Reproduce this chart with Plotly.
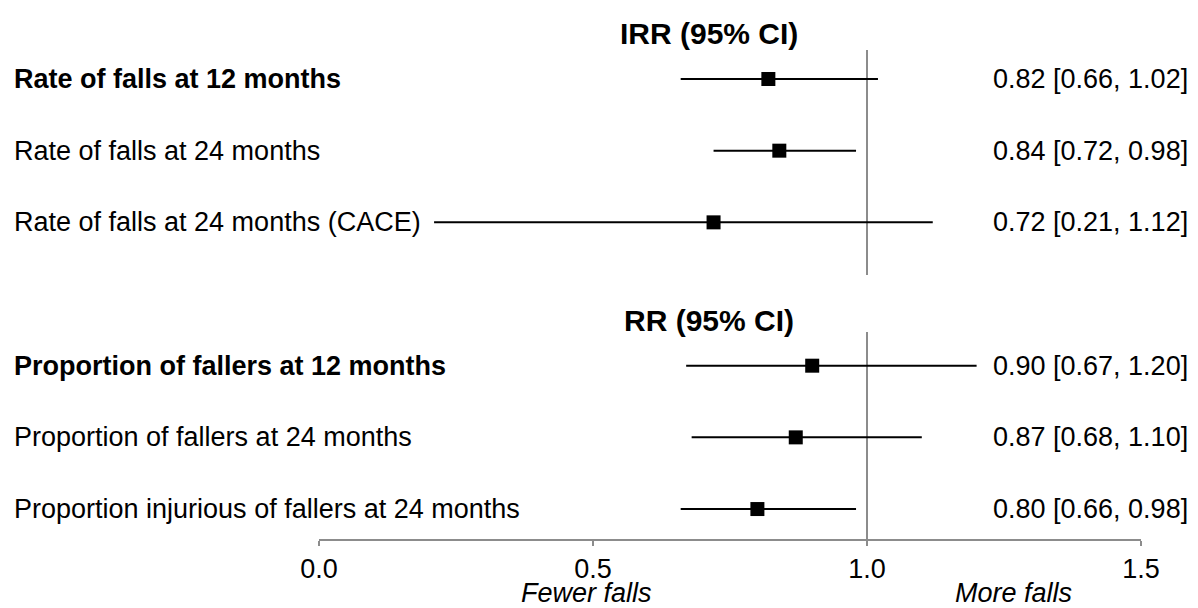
import plotly.graph_objects as go

# ---- data ----
labels = [
    "Rate of falls at 12 months",
    "Rate of falls at 24 months",
    "Rate of falls at 24 months (CACE)",
    "Proportion of fallers at 12 months",
    "Proportion of fallers at 24 months",
    "Proportion injurious of fallers at 24 months",
]
bold = [True, False, False, True, False, False]
rows = [0, 1, 2, 4, 5, 6]
est = [0.82, 0.84, 0.72, 0.90, 0.87, 0.80]
lo = [0.66, 0.72, 0.21, 0.67, 0.68, 0.66]
hi = [1.02, 0.98, 1.12, 1.20, 1.10, 0.98]
headers = ["IRR (95% CI)", "RR (95% CI)"]
header_rows = [0, 4]
tick_vals = [0.0, 0.5, 1.0, 1.5]
tick_text = ["0.0", "0.5", "1.0", "1.5"]
direction_labels = ["Fewer falls", "More falls"]
direction_x = [0.489, 1.268]

FONT = "Liberation Sans, Arial, sans-serif"
FS = 27

fig = go.Figure()
fig.add_trace(go.Scatter(
    x=est, y=rows, mode="markers",
    marker=dict(symbol="square", size=14, color="black"),
    error_x=dict(type="data", symmetric=False,
                 array=[h - e for h, e in zip(hi, est)],
                 arrayminus=[e - l for e, l in zip(est, lo)],
                 width=0, thickness=2, color="black"),
    cliponaxis=False, showlegend=False, hoverinfo="skip",
))

ann = []
for lab, b, r in zip(labels, bold, rows):
    ann.append(dict(x=-0.3735, xref="paper", y=r, yref="y", text=f"<b>{lab}</b>" if b else lab,
                    showarrow=False, xanchor="left", yanchor="middle",
                    font=dict(family=FONT, size=FS, color="black")))
for e, l, h, r in zip(est, lo, hi, rows):
    ann.append(dict(x=1.0596, xref="paper", y=r, yref="y", text=f"{e:.2f} [{l:.2f}, {h:.2f}]",
                    showarrow=False, xanchor="right", yanchor="middle",
                    font=dict(family=FONT, size=FS, color="black")))
for hd, r in zip(headers, header_rows):
    ann.append(dict(x=0.712, xref="x", y=r - 0.63, yref="y", text=f"<b>{hd}</b>",
                    showarrow=False, xanchor="center", yanchor="middle",
                    font=dict(family=FONT, size=30, color="black")))
for txt, xv in zip(direction_labels, direction_x):
    ann.append(dict(x=xv, xref="x", y=-0.102, yref="paper", text=f"<i>{txt}</i>",
                    showarrow=False, xanchor="center", yanchor="middle",
                    font=dict(family=FONT, size=FS, color="black")))

shapes = [
    dict(type="line", xref="x", yref="y", x0=1.0, x1=1.0, y0=-0.405, y1=2.735,
         line=dict(color="#8c8c8c", width=2), layer="below"),
    dict(type="line", xref="x", yref="y", x0=1.0, x1=1.0, y0=3.53, y1=6.418,
         line=dict(color="#8c8c8c", width=2), layer="below"),
]

fig.update_layout(
    width=1190, height=600,
    margin=dict(l=311, r=57, t=0, b=69),
    paper_bgcolor="white", plot_bgcolor="white",
    annotations=ann, shapes=shapes,
    xaxis=dict(range=[0, 1.5], showgrid=False, zeroline=False, showline=True,
               linecolor="#8c8c8c", linewidth=2, ticks="outside", ticklen=5,
               tickwidth=2, tickcolor="#8c8c8c", tickvals=tick_vals, ticktext=tick_text,
               tickfont=dict(family=FONT, size=FS, color="black"), ticklabelstandoff=0),
    yaxis=dict(range=[6.418, -0.9906], visible=False, showgrid=False, zeroline=False),
    font=dict(family=FONT),
)

fig.write_html("out.html")
